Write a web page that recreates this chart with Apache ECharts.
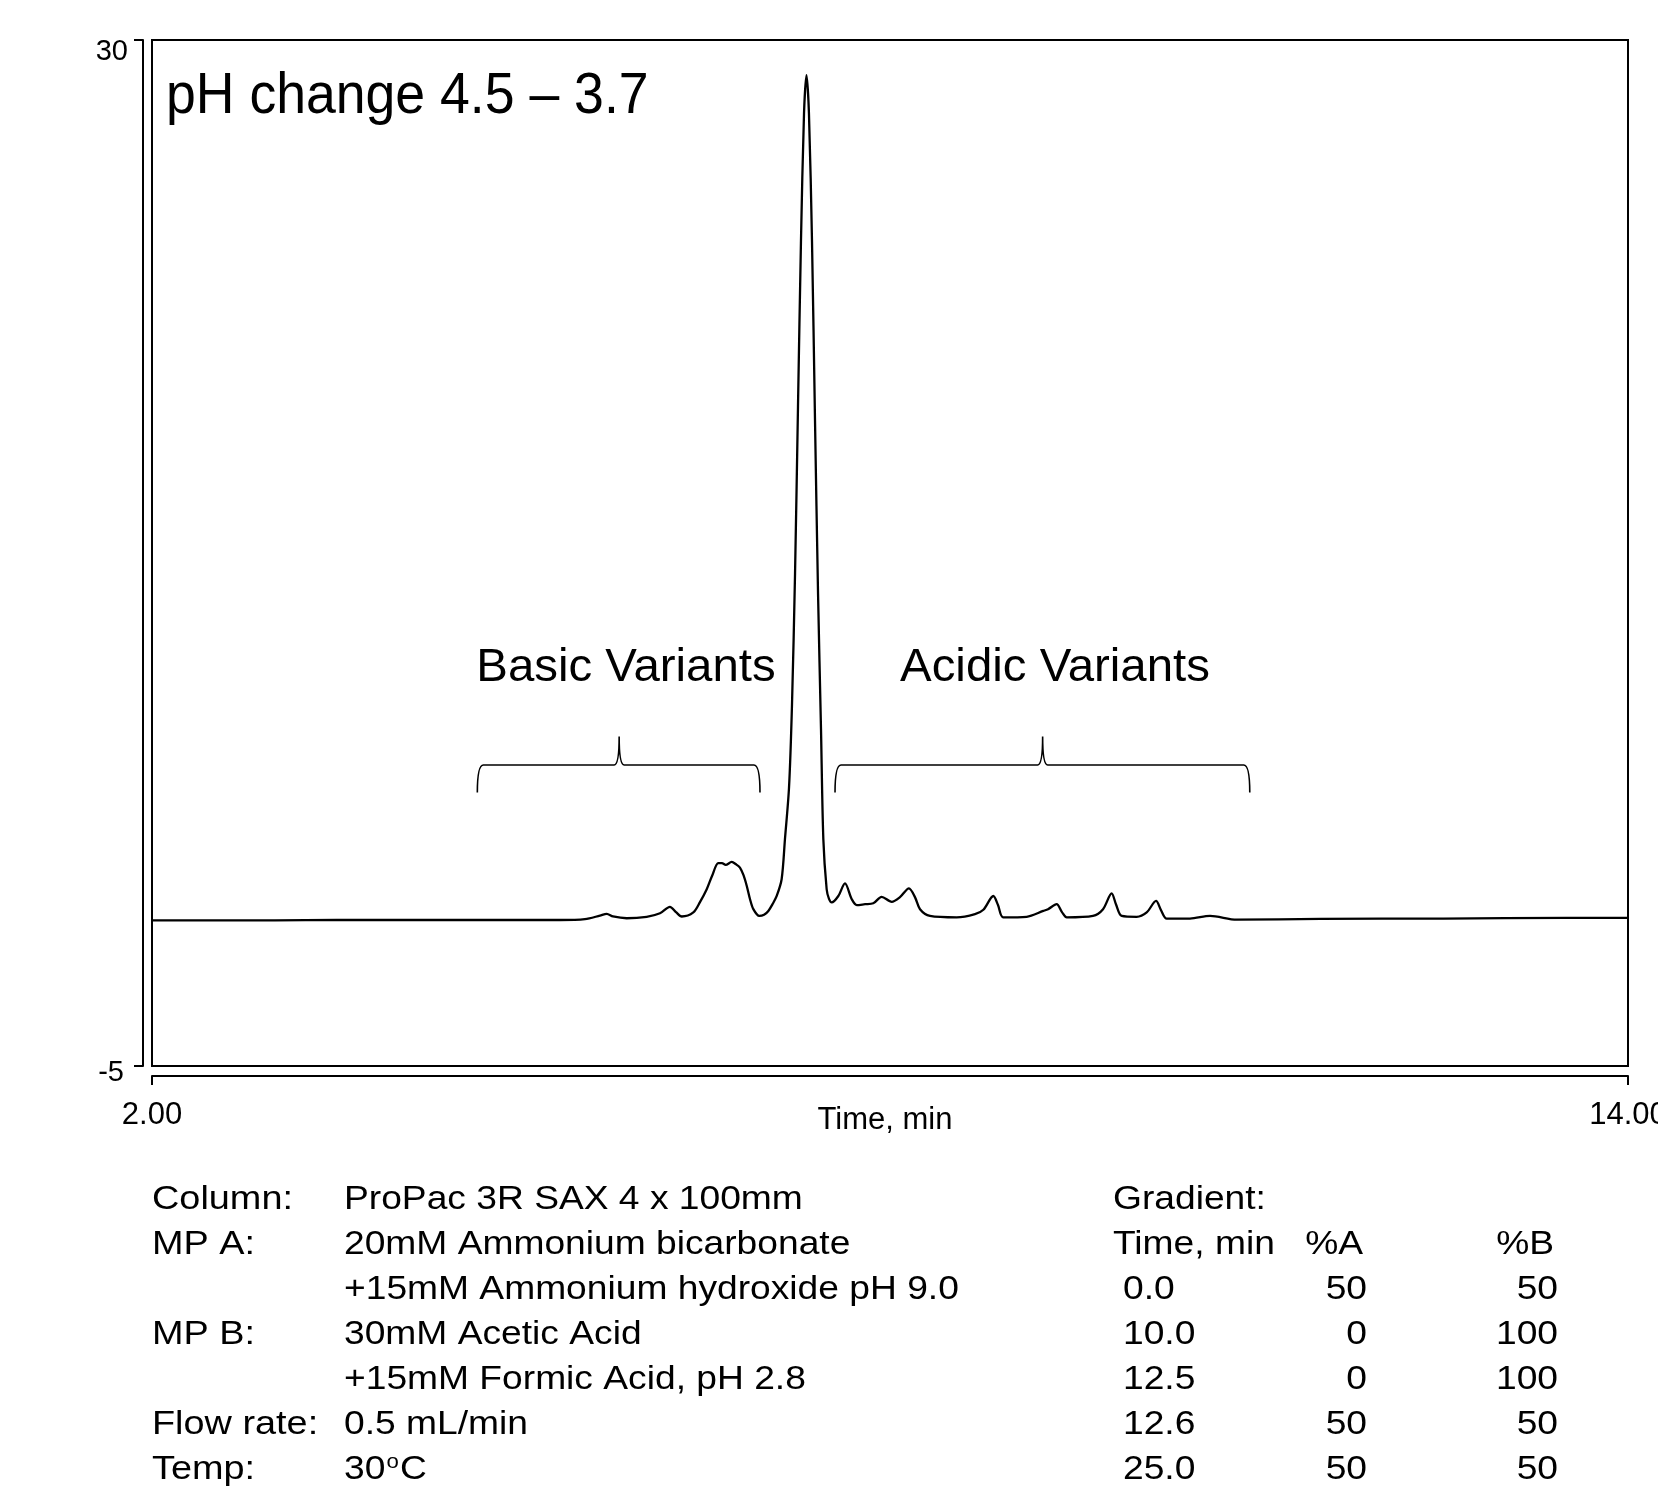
<!DOCTYPE html>
<html>
<head>
<meta charset="utf-8">
<title>pH change 4.5 – 3.7</title>
<script src="https://cdn.jsdelivr.net/npm/echarts@6/dist/echarts.min.js"></script>
<style>
  html, body { margin: 0; padding: 0; background: #fff; overflow: hidden; }
  #chart { width: 1658px; height: 1494px; }
</style>
</head>
<body>
<div id="chart"></div>
<script>
// UV trace: retention time (min) and detector signal
const traceTime = [
  2.00, 2.50, 3.00, 3.50, 4.00, 4.50, 5.00, 5.317, 5.520, 5.642, 5.697, 5.748, 5.859,
  6.022, 6.130, 6.211, 6.260, 6.307, 6.401, 6.455, 6.510, 6.553, 6.604, 6.634, 6.664,
  6.713, 6.748, 6.780, 6.809, 6.835, 6.862, 6.889, 6.937, 6.976, 7.011, 7.045, 7.079,
  7.119, 7.146, 7.179, 7.203, 7.228, 7.252, 7.276, 7.301, 7.321, 7.341, 7.366, 7.390,
  7.415, 7.439, 7.458, 7.485, 7.504, 7.526, 7.580, 7.634, 7.689, 7.730, 7.797, 7.864,
  7.932, 8.014, 8.081, 8.154, 8.203, 8.244, 8.325, 8.542, 8.691, 8.759, 8.840, 8.878,
  8.921, 9.111, 9.246, 9.285, 9.355, 9.398, 9.437, 9.650, 9.732, 9.802, 9.837, 9.884,
  10.006, 10.087, 10.163, 10.203, 10.250, 10.439, 10.602, 10.819, 11.5, 12.5, 13.5, 14.0
];
const traceSignal = [
  -0.03, -0.03, -0.03, -0.02, -0.02, -0.02, -0.02, -0.02, 0.01, 0.13, 0.19, 0.10, 0.04,
  0.09, 0.21, 0.43, 0.25, 0.10, 0.24, 0.59, 1.03, 1.48, 1.92, 1.92, 1.86,
  1.96, 1.88, 1.77, 1.51, 1.15, 0.69, 0.35, 0.12, 0.16, 0.29, 0.52, 0.80,
  1.37, 2.74, 4.5, 7.3, 11.8, 17.5, 23.1, 27.5, 28.8, 27.5, 23.1, 17.1,
  11.1, 6.5, 2.74, 1.03, 0.70, 0.58, 0.80, 1.23, 0.69, 0.49, 0.52, 0.55,
  0.77, 0.60, 0.76, 1.06, 0.76, 0.35, 0.12, 0.07, 0.18, 0.33, 0.80, 0.49,
  0.07, 0.09, 0.29, 0.35, 0.52, 0.25, 0.07, 0.12, 0.35, 0.89, 0.52, 0.12,
  0.09, 0.24, 0.63, 0.32, 0.03, 0.03, 0.12, -0.01, 0.02, 0.03, 0.05, 0.05
];

// Axis ranges and tick labels
const xTicks = [2, 14];
const yTicks = [-5, 30];

// Variant regions: [start, end, centre, endY, lineY, tipY]
const bracketNames = ['Basic Variants', 'Acidic Variants'];
const bracketSpans = [
  [4.645, 6.943, 5.798, 4.33, 5.27, 6.24],
  [7.553, 10.925, 9.241, 4.33, 5.27, 6.24]
];

// Method conditions
const condLabels = ['Column:', 'MP A:', '', 'MP B:', '', 'Flow rate:', 'Temp:'];
const condValues = [
  'ProPac 3R SAX 4 x 100mm',
  '20mM Ammonium bicarbonate',
  '+15mM Ammonium hydroxide pH 9.0',
  '30mM Acetic Acid',
  '+15mM Formic Acid, pH 2.8',
  '0.5 mL/min',
  '30{sup|o}C'
];

// Gradient program
const gradTime = ['0.0', '10.0', '12.5', '12.6', '25.0'];
const gradA = [50, 0, 0, 50, 50];
const gradB = [50, 100, 100, 50, 50];

const FONT = '"Liberation Sans", Arial, Helvetica, sans-serif';
const W = 1658, H = 1494;
const chart = echarts.init(document.getElementById('chart'), null, { renderer: 'canvas', width: W, height: H });

function txt(text, x, y, size, align, sx, extra) {
  return Object.assign({
    type: 'text', x: x, y: y, scaleX: sx || 1, silent: true,
    style: {
      text: text, fontSize: size, fontFamily: FONT, fill: '#000',
      align: align || 'left', verticalAlign: 'middle'
    }
  }, extra || {});
}

function buildGraphics() {
  const g = [];
  g.push(txt('pH change 4.5 \u2013 3.7', 166, 97, 57, 'left', 0.94));

  // Region titles above their brackets
  const titleX = [626, 1055];
  bracketNames.forEach(function (name, i) {
    g.push(txt(name, titleX[i], 668, 46, 'center', 1.03));
  });

  // Method conditions block
  const fs = 33.5, pitch = 45, top = 1212 - 0.358 * fs;
  condLabels.forEach(function (lab, i) {
    if (lab) g.push(txt(lab, 152, top + i * pitch, fs, 'left', 1.13));
  });
  condValues.forEach(function (val, i) {
    const el = txt(val, 344, top + i * pitch, fs, 'left', 1.11);
    el.style.rich = {
      sup: { fontSize: 20, fontFamily: FONT, fill: '#000', padding: [0, 1, 16, 1] }
    };
    g.push(el);
  });

  // Gradient table
  const sx = 1.11;
  const rtop = 1212 - 0.358 * fs;
  g.push(txt('Gradient:', 1113, rtop, fs, 'left', sx));
  g.push(txt('Time, min', 1113, rtop + pitch, fs, 'left', sx));
  g.push(txt('%A', 1363, rtop + pitch, fs, 'right', sx));
  g.push(txt('%B', 1554, rtop + pitch, fs, 'right', sx));
  gradTime.forEach(function (t, i) {
    const y = rtop + (i + 2) * pitch;
    g.push(txt(t, 1123, y, fs, 'left', sx));
    g.push(txt(String(gradA[i]), 1367, y, fs, 'right', sx));
    g.push(txt(String(gradB[i]), 1558, y, fs, 'right', sx));
  });
  return g;
}

function renderBracket(params, api) {
  const p0 = api.coord([api.value(0), api.value(4)]);
  const xl = p0[0], yLine = p0[1];
  const xr = api.coord([api.value(1), api.value(4)])[0];
  const xm = api.coord([api.value(2), api.value(4)])[0];
  const yEnd = api.coord([api.value(0), api.value(3)])[1];
  const yTip = api.coord([api.value(0), api.value(5)])[1];
  const r = 6, n = 5;
  const d = 'M' + xl + ' ' + yEnd +
    ' Q' + xl + ' ' + yLine + ' ' + (xl + r) + ' ' + yLine +
    ' L' + (xm - n) + ' ' + yLine +
    ' Q' + xm + ' ' + yLine + ' ' + xm + ' ' + yTip +
    ' Q' + xm + ' ' + yLine + ' ' + (xm + n) + ' ' + yLine +
    ' L' + (xr - r) + ' ' + yLine +
    ' Q' + xr + ' ' + yLine + ' ' + xr + ' ' + yEnd;
  return {
    type: 'path',
    shape: { pathData: d },
    style: { fill: null, stroke: '#000', lineWidth: 1.6 }
  };
}

const option = {
  animation: false,
  backgroundColor: '#fff',
  grid: {
    left: 152, right: 30, top: 40, bottom: 428,
    outerBoundsMode: 'none', containLabel: false,
    show: true, borderColor: '#000', borderWidth: 2, backgroundColor: 'transparent'
  },
  xAxis: {
    type: 'value', min: 2, max: 14, offset: 10,
    axisLine: { show: true, onZero: false, lineStyle: { color: '#000', width: 2 } },
    axisTick: { show: true, length: 9, customValues: xTicks, lineStyle: { color: '#000', width: 2 } },
    axisLabel: {
      customValues: xTicks, color: '#000', fontSize: 31, fontFamily: FONT, margin: 24,
      hideOverlap: false,
      formatter: function (v) { return v.toFixed(2); }
    },
    splitLine: { show: false },
    name: 'Time, min', nameLocation: 'middle', nameGap: 29, nameMoveOverlap: false,
    nameTextStyle: { color: '#000', fontSize: 31, fontFamily: FONT, padding: [0, 10, 0, 0] }
  },
  yAxis: {
    type: 'value', min: -5, max: 30, offset: 9,
    axisLine: { show: true, onZero: false, lineStyle: { color: '#000', width: 2 } },
    axisTick: { show: true, length: 9, customValues: yTicks, lineStyle: { color: '#000', width: 2 } },
    axisLabel: {
      customValues: yTicks, color: '#000', fontSize: 29, fontFamily: FONT, margin: 15,
      formatter: function (v) { return v === 30 ? '{a|30}' : '{b|' + v + '}'; },
      rich: {
        a: { fontSize: 29, fontFamily: FONT, color: '#000', padding: [24, 0, 0, 0] },
        b: { fontSize: 29, fontFamily: FONT, color: '#000', padding: [13, 4, 0, 0] }
      }
    },
    splitLine: { show: false }
  },
  series: [
    {
      type: 'line',
      data: traceTime.map(function (t, i) { return [t, traceSignal[i]]; }),
      showSymbol: false,
      smooth: 0.3,
      lineStyle: { color: '#000', width: 2.3 },
      z: 3
    },
    {
      type: 'custom',
      renderItem: renderBracket,
      data: bracketSpans,
      encode: { x: [0, 1, 2], y: [3, 4, 5] },
      clip: false,
      silent: true,
      z: 4
    }
  ]
};

chart.setOption(option);
chart.setOption({ graphic: buildGraphics() });
</script>
</body>
</html>
